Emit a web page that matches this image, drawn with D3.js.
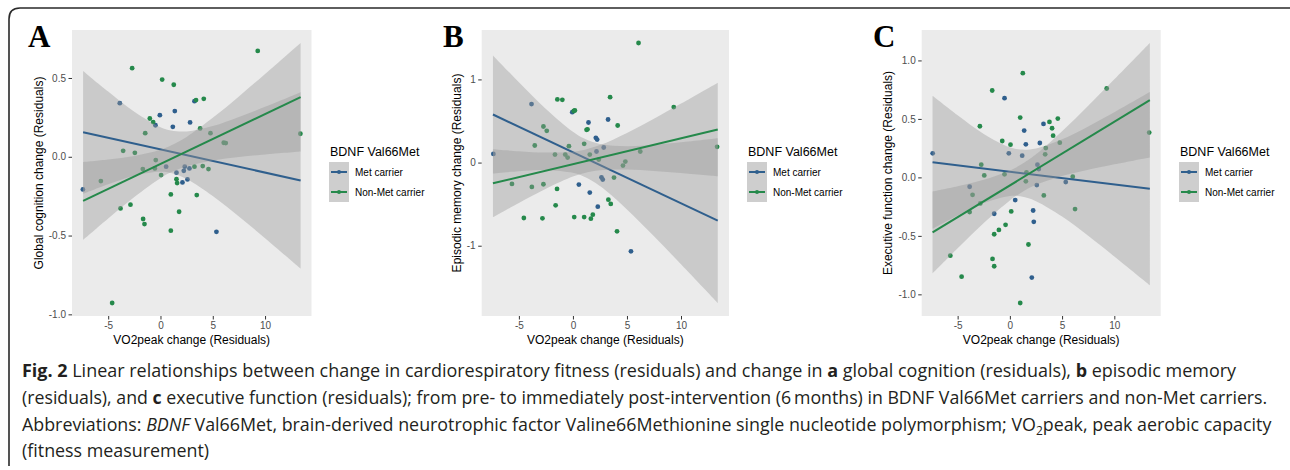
<!DOCTYPE html>
<html><head><meta charset="utf-8">
<script src="https://cdn.jsdelivr.net/npm/d3@7"></script>
<style>body{margin:0;background:#fff}svg{display:block}</style>
</head><body><svg id="chart" width="1290" height="470"></svg>
<script>
// ---------- data ----------
const groups = ["Met carrier", "Non-Met carrier"];
const xTicks = [-5, 0, 5, 10];
const xTickLabels = ["-5", "0", "5", "10"];
const yTicksA = [-1.0, -0.5, 0.0, 0.5];
const yTickLabelsA = ["-1.0", "-0.5", "0.0", "0.5"];
const yTicksB = [-1, 0, 1];
const yTickLabelsB = ["-1", "0", "1"];
const yTicksC = [-1.0, -0.5, 0.0, 0.5, 1.0];
const yTickLabelsC = ["-1.0", "-0.5", "0.0", "0.5", "1.0"];

// Panel A: global cognition
const pointsA_met = [[-3.89,0.34],[3.25,0.353],[1.37,0.29],[-0.06,0.264],[2.83,0.218],[1.18,0.19],[-0.48,0.2],[-7.42,-0.207],[0.54,-0.063],[1.53,-0.101],[2.32,-0.063],[2.23,-0.089],[2.77,-0.074],[2.1,-0.163],[2.58,-0.144],[5.35,-0.476]];
const pointsA_non = [[9.3,0.672],[-2.71,0.562],[0.16,0.49],[1.27,0.457],[3.4,0.36],[4.14,0.368],[-1.02,0.243],[-0.7,0.22],[3.79,0.18],[-1.46,0.15],[4.78,0.15],[13.38,0.146],[6.05,0.089],[6.24,0.087],[-3.57,0.038],[-2.45,0.025],[-0.45,-0.021],[-1.69,-0.078],[-0.54,-0.074],[0.06,-0.116],[3.25,-0.063],[4.04,-0.059],[4.59,-0.078],[-5.7,-0.154],[1.53,-0.142],[1.59,-0.167],[0.99,-0.239],[3.47,-0.243],[-2.87,-0.304],[-3.82,-0.328],[1.78,-0.349],[-1.66,-0.395],[-1.53,-0.427],[0.99,-0.469],[-4.62,-0.928]];
const fitA_met = [[-7.4,0.155],[13.4,-0.150]];
const fitA_non = [[-7.4,-0.280],[13.4,0.378]];

// Panel B: episodic memory
const pointsB_met = [[-3.83,0.703],[-0.06,0.606],[1.44,0.482],[3.25,0.518],[2.12,0.297],[2.24,0.277],[-7.36,0.104],[2.18,0.133],[2.85,0.181],[2.64,-0.177],[2.76,-0.205],[0.55,-0.265],[1.56,-0.361],[2.3,-0.53],[5.37,-1.068]];
const pointsB_non = [[6.07,1.438],[-1.44,0.759],[-0.98,0.755],[3.44,0.787],[0.08,0.62],[0.18,0.627],[9.33,0.667],[1.26,0.394],[1.35,0.40],[4.14,0.446],[-2.73,0.434],[-2.42,0.382],[-3.53,0.205],[-1.66,0.096],[-0.37,0.197],[-0.71,0.096],[-0.49,0.06],[1.04,0.225],[1.56,0.096],[2.39,0.036],[13.34,0.189],[6.23,0.133],[4.85,0.012],[4.63,-0.036],[3.8,-0.181],[-5.64,-0.257],[-3.8,-0.293],[-2.73,-0.261],[-1.47,-0.317],[-1.6,-0.514],[-4.54,-0.667],[-2.82,-0.671],[0.12,-0.655],[1.04,-0.655],[1.84,-0.627],[1.66,-0.675],[3.28,-0.446],[3.5,-0.498],[4.08,-0.827]];
const fitB_met = [[-7.4,0.578],[13.4,-0.699]];
const fitB_non = [[-7.4,-0.249],[13.4,0.398]];

// Panel C: executive function
const pointsC_met = [[-0.51,0.677],[1.37,0.4],[3.22,0.457],[1.53,0.283],[2.87,0.294],[-7.39,0.206],[-0.1,0.206],[1.18,0.186],[2.64,0.109],[2.77,0.071],[-3.85,-0.08],[2.58,-0.066],[5.35,-0.04],[0.51,-0.194],[-1.5,-0.311],[2.23,-0.283],[2.29,-0.38],[2.1,-0.857]];
const pointsC_non = [[1.24,0.891],[-1.69,0.743],[9.27,0.76],[0.99,0.511],[-2.87,0.437],[3.79,0.474],[4.59,0.503],[4.04,0.42],[4.14,0.357],[-0.73,0.311],[0.06,0.28],[4.78,0.297],[3.44,0.251],[3.38,0.197],[13.34,0.383],[-2.74,0.109],[-2.45,0.017],[-0.51,0.026],[1.59,0.043],[1.53,-0.034],[6.02,0.006],[-3.57,-0.149],[-2.83,-0.223],[-3.85,-0.297],[3.25,-0.154],[6.24,-0.271],[0.13,-0.291],[-0.41,-0.406],[-1.05,-0.449],[-1.5,-0.486],[1.78,-0.574],[-5.7,-0.669],[-1.66,-0.697],[-1.5,-0.76],[-4.62,-0.849],[0.99,-1.074]];
const fitC_met = [[-7.4,0.129],[13.4,-0.097]];
const fitC_non = [[-7.4,-0.471],[13.4,0.660]];

// Confidence ribbons (read at these x positions)
const ribbonX = [-7.4, -5, -2.5, 0, 1, 2.5, 5, 7.5, 10, 13.4];
const ribbonA_met_lo = [-0.235,-0.174,-0.120,-0.095,-0.103,-0.141,-0.249,-0.379,-0.517,-0.710];
const ribbonA_met_hi = [0.545,0.414,0.286,0.188,0.167,0.161,0.195,0.253,0.317,0.410];
const ribbonA_non_lo = [-0.527,-0.391,-0.255,-0.136,-0.099,-0.060,-0.023,-0.001,0.015,0.034];
const ribbonA_non_hi = [-0.033,-0.017,0.005,0.044,0.071,0.126,0.247,0.383,0.525,0.722];
const ribbonB_met_lo = [-0.132,-0.104,-0.091,-0.123,-0.168,-0.283,-0.563,-0.887,-1.223,-1.689];
const ribbonB_met_hi = [1.288,0.966,0.645,0.371,0.292,0.223,0.197,0.213,0.243,0.291];
const ribbonB_non_lo = [-0.659,-0.485,-0.314,-0.169,-0.128,-0.092,-0.083,-0.100,-0.125,-0.165];
const ribbonB_non_hi = [0.161,0.137,0.120,0.131,0.152,0.210,0.357,0.528,0.709,0.961];
const ribbonC_met_lo = [-0.439,-0.325,-0.220,-0.159,-0.162,-0.203,-0.335,-0.500,-0.677,-0.923];
const ribbonC_met_hi = [0.697,0.531,0.372,0.257,0.238,0.247,0.325,0.436,0.557,0.729];
const ribbonC_non_lo = [-0.821,-0.606,-0.389,-0.197,-0.135,-0.064,0.011,0.065,0.112,0.171];
const ribbonC_non_hi = [-0.121,-0.076,-0.021,0.059,0.105,0.198,0.395,0.613,0.838,1.149];

const panelLetters = ["A", "B", "C"];
const yTitles = ["Global cognition change (Residuals)", "Episodic memory change (Residuals)", "Executive function change (Residuals)"];
const xTitle = "VO2peak change (Residuals)";
const legendTitle = "BDNF Val66Met";

const captionLines = [
  [["Fig. 2","b"],[" Linear relationships between change in cardiorespiratory fitness (residuals) and change in ",""],["a","b"],[" global cognition (residuals), ",""],["b","b"],[" episodic memory",""]],
  [["(residuals), and ",""],["c","b"],[" executive function (residuals); from pre- to immediately post-intervention (6\u2009months) in BDNF Val66Met carriers and non-Met carriers.",""]],
  [["Abbreviations: ",""],["BDNF","i"],[" Val66Met, brain-derived neurotrophic factor Valine66Methionine single nucleotide polymorphism; VO",""],["2","sub"],["peak, peak aerobic capacity",""]],
  [["(fitness measurement)",""]]
];

// ---------- style / layout ----------
const colors = ["#2f5f8d", "#25894b"];
const svg = d3.select("#chart");
const FONT = "'Liberation Sans', Arial, sans-serif";

svg.append("path")
  .attr("d", "M9,466 L9,19 Q9,8 20,8 L1290,8")
  .attr("fill", "none").attr("stroke", "#2a2a2a").attr("stroke-width", 1.6);

const panels = [
  {letter: 0, left: 72, right: 311.5, letterX: 28, ytx: 39, legX: 329,
   ticks: yTicksA, labels: yTickLabelsA,
   met: pointsA_met, non: pointsA_non, fitMet: fitA_met, fitNon: fitA_non,
   rib: [[ribbonA_met_lo, ribbonA_met_hi], [ribbonA_non_lo, ribbonA_non_hi]]},
  {letter: 1, left: 481.7, right: 729, letterX: 443, ytx: 457, legX: 747,
   ticks: yTicksB, labels: yTickLabelsB,
   met: pointsB_met, non: pointsB_non, fitMet: fitB_met, fitNon: fitB_non,
   rib: [[ribbonB_met_lo, ribbonB_met_hi], [ribbonB_non_lo, ribbonB_non_hi]]},
  {letter: 2, left: 921.7, right: 1160.7, letterX: 873, ytx: 888, legX: 1179,
   ticks: yTicksC, labels: yTickLabelsC,
   met: pointsC_met, non: pointsC_non, fitMet: fitC_met, fitNon: fitC_non,
   rib: [[ribbonC_met_lo, ribbonC_met_hi], [ribbonC_non_lo, ribbonC_non_hi]]}
];
const plotTop = 30, plotBottom = 316;

function expand(ext) { const d = (ext[1] - ext[0]) * 0.05; return [ext[0] - d, ext[1] + d]; }

panels.forEach(p => {
  const allX = p.met.concat(p.non).map(d => d[0]).concat(ribbonX);
  const allY = p.met.concat(p.non).map(d => d[1])
      .concat(p.rib[0][0], p.rib[0][1], p.rib[1][0], p.rib[1][1]);
  const x = d3.scaleLinear().domain(expand(d3.extent(allX))).range([p.left, p.right]);
  const y = d3.scaleLinear().domain(expand(d3.extent(allY))).range([plotBottom, plotTop]);
  const g = svg.append("g");

  g.append("rect").attr("x", p.left).attr("y", plotTop)
    .attr("width", p.right - p.left).attr("height", plotBottom - plotTop).attr("fill", "#ebebeb");

  const ax = g.append("g").attr("transform", `translate(0,${plotBottom})`)
    .call(d3.axisBottom(x).tickValues(xTicks).tickFormat((d, i) => xTickLabels[i]).tickSize(3.5).tickPadding(2.5));
  const ay = g.append("g").attr("transform", `translate(${p.left},0)`)
    .call(d3.axisLeft(y).tickValues(p.ticks).tickFormat((d, i) => p.labels[i]).tickSize(3.5).tickPadding(2.5));
  [ax, ay].forEach(a => {
    a.select(".domain").remove();
    a.selectAll(".tick line").attr("stroke", "#333").attr("stroke-width", 1);
    a.selectAll(".tick text").attr("fill", "#4d4d4d").style("font-family", FONT).style("font-size", "10px");
  });

  [p.met, p.non].forEach((pts, gi) => {
    g.append("g").selectAll("circle").data(pts).join("circle")
      .attr("cx", d => x(d[0])).attr("cy", d => y(d[1])).attr("r", 2.4)
      .attr("fill", colors[gi]);
  });

  const area = d3.area().curve(d3.curveCatmullRom)
    .x((d, i) => x(ribbonX[i])).y0(d => y(d[0])).y1(d => y(d[1]));
  const line = d3.line().x(d => x(d[0])).y(d => y(d[1]));
  [p.fitMet, p.fitNon].forEach((fit, gi) => {
    const rib = p.rib[gi];
    const data = ribbonX.map((_, i) => [rib[0][i], rib[1][i]]);
    g.append("path").attr("d", area(data)).attr("fill", "#999999").attr("fill-opacity", 0.4);
    g.append("path").attr("d", line(fit)).attr("fill", "none")
      .attr("stroke", colors[gi]).attr("stroke-width", 2);
  });

  g.append("text").attr("x", (p.left + p.right) / 2).attr("y", 344)
    .attr("text-anchor", "middle").style("font-family", FONT).style("font-size", "12px")
    .attr("fill", "#000").text(xTitle);
  g.append("text").attr("transform", `translate(${p.ytx},${(plotTop + plotBottom) / 2}) rotate(-90)`)
    .attr("text-anchor", "middle").attr("dy", "0.35em").style("font-family", FONT).style("font-size", "12px")
    .attr("fill", "#000").text(yTitles[p.letter]);
  g.append("text").attr("x", p.letterX).attr("y", 47)
    .style("font-family", "'Liberation Serif', 'Times New Roman', serif").style("font-weight", "bold")
    .style("font-size", "31px").attr("fill", "#000").text(panelLetters[p.letter]);

  const lg = g.append("g").attr("transform", `translate(${p.legX},0)`);
  lg.append("text").attr("x", 1).attr("y", 155.5).style("font-family", FONT).style("font-size", "12.5px")
    .attr("fill", "#000").text(legendTitle);
  groups.forEach((name, gi) => {
    const ky = 162 + gi * 20;
    lg.append("rect").attr("x", 0).attr("y", ky).attr("width", 20).attr("height", 20).attr("fill", "#f2f2f2");
    lg.append("rect").attr("x", 0).attr("y", ky).attr("width", 20).attr("height", 20).attr("fill", "#999").attr("fill-opacity", 0.4);
    lg.append("line").attr("x1", 2).attr("x2", 18).attr("y1", ky + 10).attr("y2", ky + 10)
      .attr("stroke", colors[gi]).attr("stroke-width", 2);
    lg.append("circle").attr("cx", 10).attr("cy", ky + 10).attr("r", 2).attr("fill", colors[gi]);
    lg.append("text").attr("x", 26).attr("y", ky + 10).attr("dy", "0.35em")
      .style("font-family", FONT).style("font-size", "10px").attr("fill", "#000").text(name);
  });
});

// caption
const capY = [377, 404, 430.5, 457];
const capTargets = [1215, 1246, 1250, null];
let lastSize = 18;
captionLines.forEach((parts, li) => {
  const t = svg.append("text").attr("x", 22).attr("y", capY[li])
    .style("font-family", "'Open Sans', 'Noto Sans', sans-serif").style("font-size", "18px").attr("fill", "#231f20");
  parts.forEach(([s, st]) => {
    const ts = t.append("tspan").text(s);
    if (st === "b") ts.style("font-weight", "bold");
    if (st === "i") ts.style("font-style", "italic");
    if (st === "sub") ts.attr("class", "sub").style("font-size", "12px").attr("dy", 4);
    if (st === "" && li === 2 && s.startsWith("peak")) ts.attr("dy", -4);
  });
  if (capTargets[li]) {
    const w = t.node().getComputedTextLength();
    lastSize = 18 * capTargets[li] / w;
  }
  t.style("font-size", lastSize + "px");
  t.selectAll("tspan.sub").style("font-size", (lastSize * 0.67) + "px");
});
</script>
</body></html>
